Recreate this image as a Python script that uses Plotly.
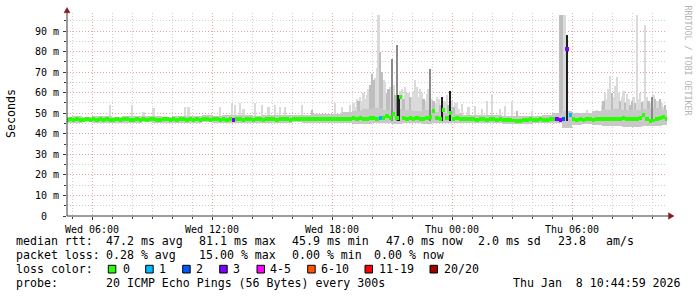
import plotly.graph_objects as go
import pandas as pd

# ---------------- data ----------------
T_START = "2026-01-07 04:45"
T_END = "2026-01-08 10:45"

# median rtt (ms), one value per 10 minutes from T_START to T_END
median_ms = [
    46.9, 47.0, 46.8, 47.1, 46.9, 46.7, 47.0, 46.9, 47.1, 46.8, 47.0,
    46.9, 47.2, 46.8, 46.9, 47.1, 46.7, 47.0, 47.2, 46.9, 46.8,
    47.0, 46.9, 47.1, 46.8, 47.0, 47.2, 46.9, 46.8, 47.0, 47.1,
    46.9, 47.0, 46.8, 47.1, 47.2, 46.9, 47.0, 46.8, 47.0, 46.9,
    47.1, 47.0, 46.8, 47.2, 47.0, 46.9, 47.1, 46.8, 47.0, 46.9,
    47.1, 47.0, 46.9, 47.2, 47.0, 46.9, 47.1, 47.0, 46.8, 47.1,
    47.0, 47.2, 46.9, 47.1, 47.0, 47.2, 46.9, 47.1, 47.0, 47.2,
    47.1, 47.0, 47.3, 47.1, 47.2, 47.0, 47.3, 47.1, 47.2, 47.4,
    47.2, 47.3, 47.1, 47.4, 47.2, 47.5, 47.3, 47.6, 47.4, 47.3,
    47.6, 47.8, 47.4, 47.7, 47.9, 48.5, 47.6, 49.5, 47.8, 58.0,
    47.6, 47.3, 47.5, 47.2, 47.6, 47.4, 47.3, 47.8, 48.2, 51.0,
    47.6, 47.4, 51.8, 47.5, 50.0, 47.3, 47.6, 47.4, 47.2, 47.3,
    47.0, 47.2, 46.9, 47.1, 47.0, 46.8, 47.1, 47.2, 46.9, 47.0,
    46.8, 46.9, 46.7, 46.5, 46.3, 46.4, 46.7, 46.9, 47.0, 46.8,
    46.9, 47.0, 46.8, 46.9, 47.0, 47.1, 47.0, 46.9, 47.2, 81.1,
    49.0, 47.2, 46.9, 47.1, 46.8, 47.0, 47.2, 46.9, 47.1, 47.0,
    47.3, 47.1, 47.4, 47.2, 47.0, 47.3, 47.5, 47.2, 47.1, 47.3,
    47.4, 47.6, 49.2, 47.3, 46.3, 46.5, 47.2, 47.5, 48.0, 47.4,
]

# packet loss (pings lost out of 20) at the steps where it was non-zero
loss_time = ["2026-01-07 13:05", "2026-01-07 20:25", "2026-01-08 05:15",
             "2026-01-08 05:25", "2026-01-08 05:35", "2026-01-08 05:45",
             "2026-01-08 05:55"]
loss_count = [3, 1, 3, 3, 2, 3, 1]

# main smoke band (ms), one value per 30 minutes
band_lo = [
    45.5, 45.3, 45.6, 45.4, 45.2, 45.5, 45.4, 45.3, 45.6, 45.5,
    45.2, 45.4, 45.5, 45.3, 45.6, 45.4, 45.5, 45.2, 45.4, 45.5,
    45.4, 45.5, 45.3, 45.6, 45.4, 45.5, 45.3, 45.5,
    45.2, 45.0, 44.8, 45.3, 45.1, 44.9, 45.2, 45.4, 45.0, 45.3, 45.5, 45.4, 45.3,
    45.5, 45.3, 45.4, 45.0, 44.8, 44.9, 45.2, 45.4, 45.3,
    43.0,
    44.5, 44.8, 44.2, 44.0, 43.8, 43.5, 43.2, 44.0, 43.6, 44.2,
]
band_hi = [
    48.4, 48.6, 48.3, 48.8, 48.5, 48.4, 48.7, 48.5, 48.6, 48.9,
    48.4, 48.7, 48.6, 48.9, 49.2, 48.8, 49.0, 49.3, 49.1, 48.8,
    49.2, 49.4, 49.0, 49.3, 49.2, 49.5, 49.8, 49.6,
    50.5, 51.0, 52.0, 52.5, 51.5, 52.0, 51.5, 51.0, 51.5, 50.5, 50.0, 49.5, 49.2,
    49.4, 49.0, 49.2, 48.9, 48.6, 48.8, 48.7, 49.0, 50.0,
    51.0,
    50.0, 50.2, 51.0, 51.5, 52.0, 51.5, 51.5, 52.0, 52.5, 51.5,
]

# smoke spikes: time, highest ping (ms), shade level (0 light .. 3 black)
spikes = [
    ("2026-01-07 06:55", 54, 0), ("2026-01-07 08:00", 54, 0), ("2026-01-07 08:35", 50.5, 0),
    ("2026-01-07 09:05", 52.5, 0), ("2026-01-07 10:40", 53, 0), ("2026-01-07 10:50", 53, 0),
    ("2026-01-07 12:25", 53, 0), ("2026-01-07 13:00", 55, 0), ("2026-01-07 13:10", 54, 0),
    ("2026-01-07 13:25", 55, 0), ("2026-01-07 13:35", 52, 0), ("2026-01-07 14:10", 55, 0),
    ("2026-01-07 14:30", 54, 0), ("2026-01-07 14:50", 53, 0), ("2026-01-07 15:10", 54, 0),
    ("2026-01-07 15:25", 53, 0), ("2026-01-07 15:40", 53, 0), ("2026-01-07 16:30", 54, 0),
    ("2026-01-07 17:00", 51.5, 1), ("2026-01-07 18:10", 55, 0), ("2026-01-07 18:30", 53, 0),
    ("2026-01-07 18:55", 54, 0), ("2026-01-07 19:05", 55, 0), ("2026-01-07 19:10", 53, 0),
    ("2026-01-07 19:15", 57, 0), ("2026-01-07 19:20", 56, 1), ("2026-01-07 19:25", 58, 0),
    ("2026-01-07 19:30", 56, 0), ("2026-01-07 19:35", 60, 0), ("2026-01-07 19:40", 57, 0),
    ("2026-01-07 19:45", 59, 0), ("2026-01-07 19:50", 62, 0), ("2026-01-07 19:55", 64, 1),
    ("2026-01-07 20:00", 69, 1), ("2026-01-07 20:05", 66, 1), ("2026-01-07 20:10", 67, 0),
    ("2026-01-07 20:15", 72, 0), ("2026-01-07 20:20", 98, 0), ("2026-01-07 20:25", 80, 1),
    ("2026-01-07 20:30", 70, 1), ("2026-01-07 20:35", 66, 0), ("2026-01-07 20:40", 65, 0),
    ("2026-01-07 20:45", 60, 1), ("2026-01-07 20:50", 62, 1), ("2026-01-07 20:55", 63, 0),
    ("2026-01-07 21:00", 76.6, 2), ("2026-01-07 21:05", 64, 0), ("2026-01-07 21:10", 59, 1),
    ("2026-01-07 21:15", 83, 2), ("2026-01-07 21:20", 59, 3), ("2026-01-07 21:25", 61, 0),
    ("2026-01-07 21:30", 62, 0), ("2026-01-07 21:35", 57, 1), ("2026-01-07 21:40", 63, 0),
    ("2026-01-07 21:45", 60, 0), ("2026-01-07 21:50", 60, 0), ("2026-01-07 21:55", 58, 1),
    ("2026-01-07 22:00", 58, 0), ("2026-01-07 22:05", 61, 0), ("2026-01-07 22:10", 66, 0),
    ("2026-01-07 22:15", 63, 0), ("2026-01-07 22:20", 58, 0), ("2026-01-07 22:25", 62, 0),
    ("2026-01-07 22:30", 60, 0), ("2026-01-07 22:35", 57, 1), ("2026-01-07 22:40", 56, 0),
    ("2026-01-07 22:45", 59.5, 0), ("2026-01-07 22:50", 62, 0), ("2026-01-07 22:55", 71.7, 2),
    ("2026-01-07 23:00", 57, 0), ("2026-01-07 23:05", 56, 1), ("2026-01-07 23:10", 55, 0),
    ("2026-01-07 23:15", 58, 0), ("2026-01-07 23:20", 57, 0), ("2026-01-07 23:25", 54, 1),
    ("2026-01-07 23:30", 58, 3), ("2026-01-07 23:35", 56, 0), ("2026-01-07 23:40", 55, 0),
    ("2026-01-07 23:45", 59, 0), ("2026-01-07 23:50", 54, 1), ("2026-01-07 23:55", 61, 3),
    ("2026-01-08 00:00", 56, 0), ("2026-01-08 00:05", 53, 1), ("2026-01-08 00:10", 55, 0),
    ("2026-01-08 00:15", 55, 0), ("2026-01-08 00:20", 52, 0), ("2026-01-08 00:30", 54.7, 0),
    ("2026-01-08 00:50", 53, 0), ("2026-01-08 01:10", 53.5, 0), ("2026-01-08 01:30", 52, 0),
    ("2026-01-08 01:45", 56, 0), ("2026-01-08 02:00", 59.5, 0), ("2026-01-08 02:25", 52, 0),
    ("2026-01-08 02:40", 53.5, 0), ("2026-01-08 03:00", 56, 0), ("2026-01-08 03:15", 51, 1),
    ("2026-01-08 04:00", 51, 0), ("2026-01-08 05:25", 97.7, 1), ("2026-01-08 05:30", 97.7, 1),
    ("2026-01-08 05:35", 97.7, 0), ("2026-01-08 05:40", 97.7, 0), ("2026-01-08 05:45", 88, 3),
    ("2026-01-08 06:45", 51.5, 0), ("2026-01-08 07:15", 51.5, 0), ("2026-01-08 07:30", 54, 0),
    ("2026-01-08 07:35", 56, 1), ("2026-01-08 07:40", 60, 0), ("2026-01-08 07:45", 57, 0),
    ("2026-01-08 07:50", 62, 0), ("2026-01-08 07:55", 68, 0), ("2026-01-08 08:00", 60, 1),
    ("2026-01-08 08:05", 58, 0), ("2026-01-08 08:10", 63.5, 0), ("2026-01-08 08:15", 67.5, 0),
    ("2026-01-08 08:20", 60, 0), ("2026-01-08 08:25", 56, 1), ("2026-01-08 08:30", 58, 0),
    ("2026-01-08 08:35", 61, 0), ("2026-01-08 08:40", 55, 1), ("2026-01-08 08:45", 59.5, 0),
    ("2026-01-08 08:50", 57, 0), ("2026-01-08 08:55", 54, 1), ("2026-01-08 09:00", 56, 1),
    ("2026-01-08 09:05", 58, 0), ("2026-01-08 09:10", 55, 1), ("2026-01-08 09:15", 97.7, 0),
    ("2026-01-08 09:20", 57, 0), ("2026-01-08 09:25", 60, 0), ("2026-01-08 09:30", 55.4, 1),
    ("2026-01-08 09:35", 56, 0), ("2026-01-08 09:40", 93, 0), ("2026-01-08 09:45", 58, 0),
    ("2026-01-08 09:50", 56, 1), ("2026-01-08 09:55", 55, 0), ("2026-01-08 10:00", 57.8, 2),
    ("2026-01-08 10:05", 59, 0), ("2026-01-08 10:10", 57, 1), ("2026-01-08 10:15", 56, 0),
    ("2026-01-08 10:20", 56, 0), ("2026-01-08 10:25", 57, 1), ("2026-01-08 10:30", 55, 0),
    ("2026-01-08 10:35", 53, 0), ("2026-01-08 10:40", 54, 1),
]
SPIKE_BASE = 46.0

y_tick_vals = [0, 10, 20, 30, 40, 50, 60, 70, 80, 90]
y_tick_text = ["0  ", "10 m", "20 m", "30 m", "40 m", "50 m", "60 m", "70 m", "80 m", "90 m"]

loss_levels = ["0", "1", "2", "3", "4-5", "6-10", "11-19", "20/20"]
loss_colors = ["#26ff00", "#00b8ff", "#0059ff", "#7e00ff", "#ff00ff", "#ff5500", "#ff0000", "#a10000"]

stats_rtt = ["47.2 ms avg", "81.1 ms max", "45.9 ms min", "47.0 ms now", "2.0 ms sd", "23.8", "am/s"]
stats_loss = ["0.28 % avg", "15.00 % max", "0.00 % min", "0.00 % now"]
probe_text = "20 ICMP Echo Pings (56 Bytes) every 300s"
stamp_text = "Thu Jan  8 10:44:59 2026"

# ---------------- layout constants ----------------
W, H = 697, 297
L, R, T, B = 67, 667, 13, 216
MONO = "DejaVu Sans Mono"
MAJ = "#e6a3a3"
MIN = "#cfcfcf"
AXC = "#3a3a3a"
ARROW = "#8b1a1a"
SHADES = ["#dadada", "#bebebe", "#8a8a8a", "#1e1e1e"]
BAND_C = "#c8c8c8"


def px(x):
    return (x - L) / (R - L)


def py(y):
    return (B - y) / (B - T)


def nb(s):
    return s.replace(" ", "\u00a0")


median_times = pd.date_range(T_START, T_END, freq="10min")
band_times = pd.date_range(T_START, T_END, freq="30min")


def loss_color(n):
    if n == 0:
        return loss_colors[0]
    if n <= 3:
        return loss_colors[n]
    if n <= 5:
        return loss_colors[4]
    if n <= 10:
        return loss_colors[5]
    if n <= 19:
        return loss_colors[6]
    return loss_colors[7]


loss_map = {pd.Timestamp(t): c for t, c in zip(loss_time, loss_count)}
med_colors = [loss_color(loss_map.get(t, 0)) for t in median_times]

fig = go.Figure()


def spike_trace(level):
    sel = [s for s in spikes if s[2] == level]
    xs = [pd.Timestamp(s[0]) for s in sel]
    tops = [s[1] for s in sel]
    return go.Bar(x=xs, y=[v - SPIKE_BASE for v in tops], base=[SPIKE_BASE] * len(tops),
                  width=300000, marker=dict(color=SHADES[level], line=dict(width=0)),
                  hoverinfo="skip")


fig.add_trace(spike_trace(0))
fig.add_trace(spike_trace(1))
fig.add_trace(go.Bar(x=band_times, y=[h - l for l, h in zip(band_lo, band_hi)], base=band_lo,
                     width=1800000, marker=dict(color=BAND_C, line=dict(width=0)), hoverinfo="skip"))
fig.add_trace(spike_trace(2))
fig.add_trace(spike_trace(3))
THICK = 1.9
fig.add_trace(go.Bar(x=median_times, y=[THICK] * len(median_ms), base=[m - THICK / 2 for m in median_ms],
                     width=600000, marker=dict(color=med_colors, line=dict(width=0)), hoverinfo="skip"))

ann = []


def text(x, y, s, size=11.6, color="black", angle=0, xanchor="left"):
    ann.append(dict(x=px(x), y=py(y), xref="paper", yref="paper", text=nb(s), showarrow=False,
                    xanchor=xanchor, yanchor="middle", textangle=angle, borderpad=0, borderwidth=0,
                    font=dict(family=MONO, size=size, color=color)))


# statistics
text(16, 241.3, "median rtt:")
for s, x in zip(stats_rtt, [106, 199, 292, 386, 477.5, 557.5, 605.5]):
    text(x, 241.3, s)
text(16, 255.3, "packet loss:")
for s, x in zip(stats_loss, [106.3, 199, 292, 374]):
    text(x, 255.3, s)
text(16, 269.3, "loss color:")
box_x = [108.3, 145.7, 182.7, 219.7, 257, 307.7, 365, 430]
label_x = [122.5, 159.3, 196.3, 233.3, 270.3, 321.3, 379.3, 444.3]
shapes = []
for lab, col, bx, lx in zip(loss_levels, loss_colors, box_x, label_x):
    shapes.append(dict(type="rect", xref="paper", yref="paper", x0=px(bx), x1=px(bx + 7.5),
                       y0=py(273), y1=py(265.3), fillcolor=col, line=dict(color="black", width=1)))
    text(lx, 269.3, lab)
text(16, 283, "probe:")
text(106, 283, probe_text)
text(512.5, 283, stamp_text)

# axis title and watermark
text(11, 114, "Seconds", angle=-90, xanchor="center")
text(687.5, 60, "RRDTOOL / TOBI OETIKER", size=8.3, color="#b4b4b4", angle=90, xanchor="center")

# axes with arrows
shapes.append(dict(type="line", xref="paper", yref="paper", x0=px(L), x1=px(L), y0=py(B), y1=py(11),
                   line=dict(color=AXC, width=1)))
shapes.append(dict(type="line", xref="paper", yref="paper", x0=px(L), x1=px(670), y0=py(B), y1=py(B),
                   line=dict(color=AXC, width=1)))
shapes.append(dict(type="path", xref="paper", yref="paper",
                   path=f"M {px(64)} {py(12.7)} L {px(70)} {py(12.7)} L {px(67)} {py(7.5)} Z",
                   fillcolor=ARROW, line=dict(color=ARROW, width=0.5)))
shapes.append(dict(type="path", xref="paper", yref="paper",
                   path=f"M {px(668.5)} {py(212.8)} L {px(668.5)} {py(219.2)} L {px(674)} {py(216)} Z",
                   fillcolor=ARROW, line=dict(color=ARROW, width=0.5)))

fig.update_layout(
    width=W, height=H, autosize=False,
    margin=dict(l=L, r=W - R, t=T, b=H - B, pad=0),
    paper_bgcolor="white", plot_bgcolor="white",
    barmode="overlay", bargap=0, showlegend=False, hovermode=False,
    annotations=ann, shapes=shapes,
    xaxis=dict(type="date", range=[T_START, T_END], tick0="2026-01-07 06:00", dtick=21600000,
               tickformat="%a %H:%M", showgrid=True, gridcolor=MAJ, griddash="1px,2px", gridwidth=1,
               ticks="outside", ticklen=3, tickcolor=AXC, ticklabelstandoff=1,
               tickfont=dict(family=MONO, size=10, color="black"),
               minor=dict(dtick=3600000, tick0="2026-01-07 06:00", showgrid=True, gridcolor=MIN,
                          griddash="1px,2px", ticks="outside", ticklen=2, tickcolor=AXC),
               zeroline=False, showline=False, fixedrange=True),
    yaxis=dict(range=[0, 98.8], tickmode="array", tickvals=y_tick_vals,
               ticktext=[nb(s) for s in y_tick_text], showgrid=True, gridcolor=MAJ,
               griddash="1px,2px", gridwidth=1, ticks="outside", ticklen=3, tickcolor=AXC,
               ticklabelstandoff=2, tickfont=dict(family=MONO, size=10, color="black"),
               minor=dict(tickmode="linear", tick0=0, dtick=5, showgrid=True, gridcolor=MIN,
                          griddash="1px,2px", ticks="outside", ticklen=2, tickcolor=AXC),
               zeroline=False, showline=False, fixedrange=True),
)

fig.write_html("out.html")
